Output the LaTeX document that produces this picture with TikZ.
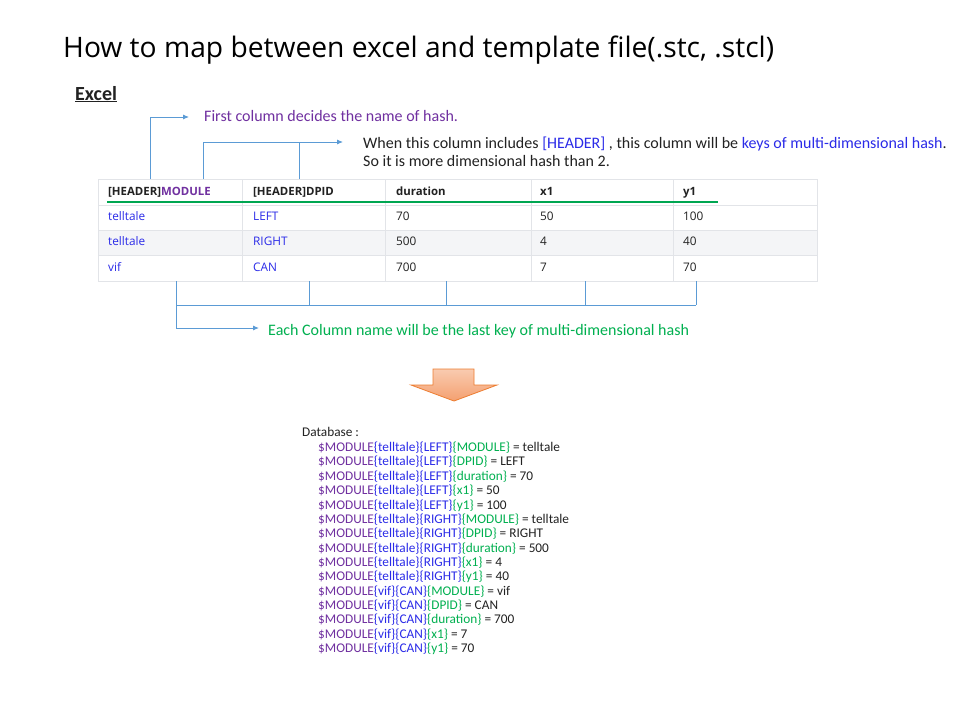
\documentclass[tikz,border=0pt]{standalone}
\usepackage{fontspec}
\setmainfont{Carlito}
\newfontfamily\titlefont{Open Sans}
\newfontfamily\tabfont{Open Sans}
\usetikzlibrary{arrows.meta}
\definecolor{arrblue}{HTML}{5B9BD5}
\definecolor{mypurple}{HTML}{7030A0}
\definecolor{myblue}{HTML}{2B2BE8}
\definecolor{mygreen}{HTML}{00B050}
\definecolor{linegreen}{HTML}{00A651}
\definecolor{gridgray}{HTML}{E2E4E8}
\definecolor{rowgray}{HTML}{F4F5F7}
\definecolor{txt}{HTML}{222222}
\definecolor{orfill1}{HTML}{F9CBB0}
\definecolor{orfill2}{HTML}{F4A070}
\definecolor{oredge}{HTML}{ED7D31}
\newcommand\dbl[4]{\textcolor{mypurple}{\$MODULE}\textcolor{myblue}{\{#1\}\{#2\}}\textcolor{mygreen}{\{#3\}} = #4}
\tikzset{
  arr/.style={draw=arrblue, line width=0.9pt, -{Latex[length=6pt,width=5pt]}},
  brk/.style={draw=arrblue, line width=0.9pt},
  lbl/.style={anchor=base west, inner sep=0pt, text=txt},
  note/.style={lbl, font=\fontsize{16}{18}\selectfont},
  cell/.style={anchor=base west, inner sep=0pt, text=txt, font=\tabfont\fontsize{11.8}{13}\selectfont},
  hcell/.style={cell, font=\tabfont\bfseries\fontsize{11.4}{13}\selectfont},
  dbline/.style={lbl, font=\fontsize{13.3}{15}\selectfont},
  grid/.style={draw=gridgray, line width=0.8pt}
}
\begin{document}
\begin{tikzpicture}[x=1pt,y=-1pt]
\useasboundingbox[fill=white] (0,0) rectangle (960,720);
% title
\node[lbl, font=\titlefont\fontsize{28.2}{32}\selectfont, text=black] (title) at (63,57) {How to map between excel and template file(.stc, .stcl)};
\node[lbl, font=\bfseries\fontsize{20}{22}\selectfont] (excel) at (75,100) {\underline{Excel}};
% annotations
\node[note, text=mypurple] (t1) at (204,121) {First column decides the name of hash.};
\node[note] (t2) at (363,148) {When this column includes \textcolor{myblue}{[HEADER]} , this column will be \textcolor{myblue}{keys of multi-dimensional hash}.};
\node[note] (t2b) at (363,166) {So it is more dimensional hash than 2.};
% table
\fill[rowgray] (98,230) rectangle (817,255);
\draw[grid] (98,179) rectangle (817,281);
\foreach \yy in {205,230,255} \draw[grid] (98,\yy) -- (817,\yy);
\foreach \xx in {242,385,531,673} \draw[grid] (\xx,179) -- (\xx,281);
\draw[linegreen, line width=2pt] (107,202) -- (718,202);
\node[hcell] (h1) at (108,195) {[HEADER]\textcolor{mypurple}{MODULE}};
\node[hcell] (h2) at (253,195) {[HEADER]DPID};
\node[hcell] (h3) at (396,195) {duration};
\node[hcell] (h4) at (540,195) {x1};
\node[hcell] (h5) at (683,195) {y1};
\node[cell, text=myblue] (r11) at (108,220) {telltale};
\node[cell, text=myblue] (r12) at (253,220) {LEFT};
\node[cell] (r13) at (396,220) {70};
\node[cell] (r14) at (540,220) {50};
\node[cell] (r15) at (683,220) {100};
\node[cell, text=myblue] (r21) at (108,245) {telltale};
\node[cell, text=myblue] (r22) at (253,245) {RIGHT};
\node[cell] (r23) at (396,245) {500};
\node[cell] (r24) at (540,245) {4};
\node[cell] (r25) at (683,245) {40};
\node[cell, text=myblue] (r31) at (108,271) {vif};
\node[cell, text=myblue] (r32) at (253,271) {CAN};
\node[cell] (r33) at (396,271) {700};
\node[cell] (r34) at (540,271) {7};
\node[cell] (r35) at (683,271) {70};
% top connectors
\coordinate (a1s) at (150,179);
\coordinate (a1e) at (189,117);
\draw[arr] (a1s) |- (a1e);
\coordinate (a2s) at (203,179);
\coordinate (a2m) at (299,179);
\coordinate (a2e) at (343,142);
\draw[arr] (a2s) |- (a2e);
\draw[brk] (a2m) -- (299,142);
% bottom connectors
\coordinate (b0) at (176,281);
\coordinate (be) at (259,328);
\draw[arr] (b0) |- (be);
\draw[brk] (176,305) -- (696,305);
\foreach \xx in {309,446,585,696} \draw[brk] (\xx,281) -- (\xx,305);
\node[note, text=mygreen] (t3) at (268,335) {Each Column name will be the last key of multi-dimensional hash};
% orange arrow
\path[draw=oredge, line width=0.8pt, top color=orfill1, bottom color=orfill2]
  (433,369) -- (474,369) -- (474,385) -- (497,385) -- (454,401) -- (411,385) -- (433,385) -- cycle;
% database
\node[dbline] (dbt) at (302,436.5) {Database :};
\foreach \a/\b/\c/\d [count=\i] in {
  telltale/LEFT/MODULE/telltale, telltale/LEFT/DPID/LEFT, telltale/LEFT/duration/70,
  telltale/LEFT/x1/50, telltale/LEFT/y1/100,
  telltale/RIGHT/MODULE/telltale, telltale/RIGHT/DPID/RIGHT, telltale/RIGHT/duration/500,
  telltale/RIGHT/x1/4, telltale/RIGHT/y1/40,
  vif/CAN/MODULE/vif, vif/CAN/DPID/CAN, vif/CAN/duration/700,
  vif/CAN/x1/7, vif/CAN/y1/70}
  \node[dbline] (db\i) at (318,{437.2+14.36*\i}) {\dbl{\a}{\b}{\c}{\d}};
\end{tikzpicture}
\end{document}
